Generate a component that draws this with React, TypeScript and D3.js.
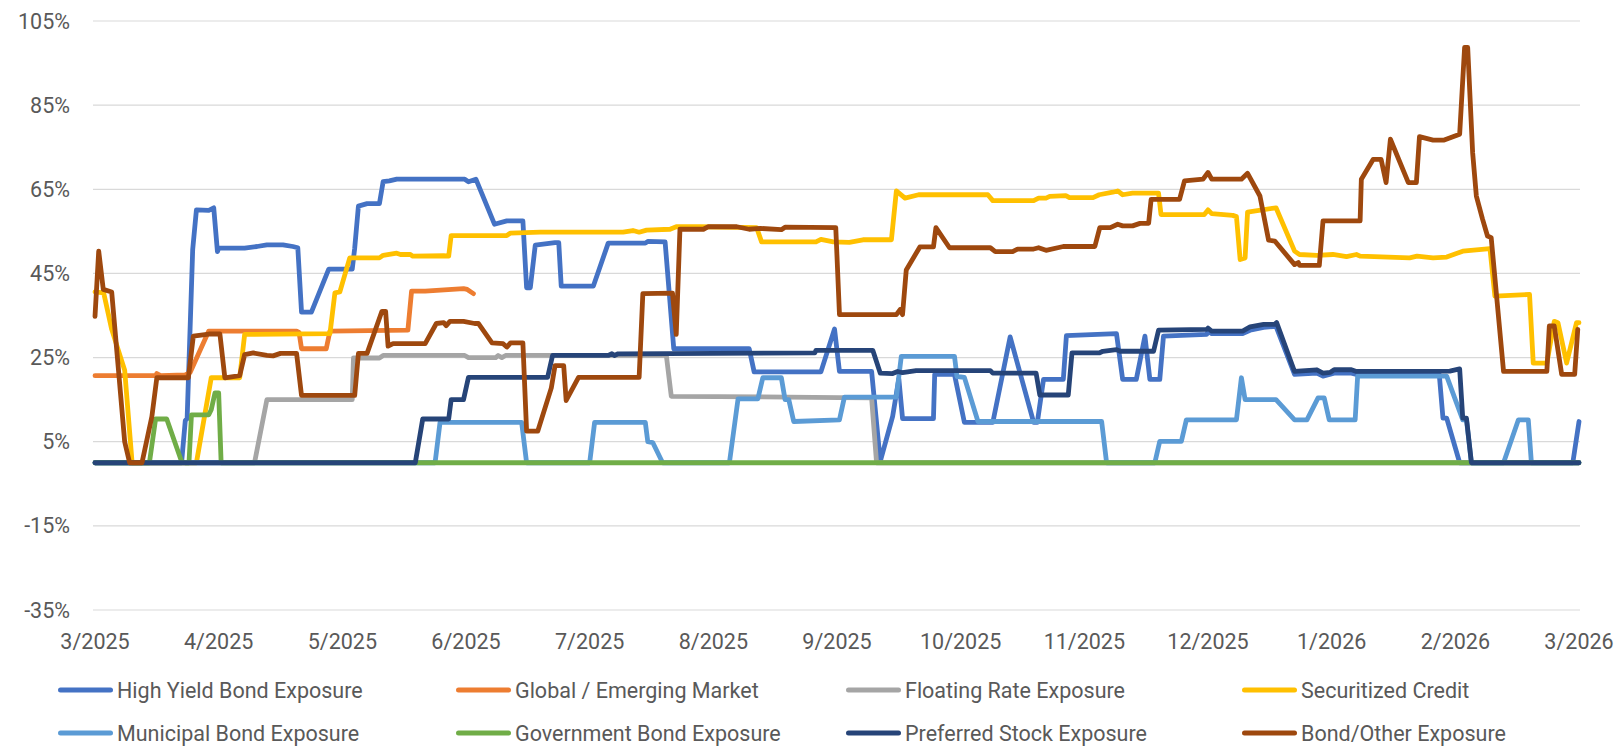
import React, { useEffect, useRef } from "react";
import * as d3 from "d3";

type Pt = [number, number];

// series names and colours, legend order
const seriesNames = [
  "High Yield Bond Exposure",
  "Global / Emerging Market",
  "Floating Rate Exposure",
  "Securitized Credit",
  "Municipal Bond Exposure",
  "Government Bond Exposure",
  "Preferred Stock Exposure",
  "Bond/Other Exposure",
];
const seriesColors = ["#4472C4", "#ED7D31", "#A5A5A5", "#FFC000", "#5B9BD5", "#70AD47", "#264478", "#9E480E"];

const monthLabels = [
  "3/2025", "4/2025", "5/2025", "6/2025", "7/2025", "8/2025", "9/2025",
  "10/2025", "11/2025", "12/2025", "1/2026", "2/2026", "3/2026",
];
const yTicks = [-35, -15, 5, 25, 45, 65, 85, 105];

// [months since 3/2025, exposure %]
const highYield: Pt[] = [
  [0, 0], [0.7, 0], [0.73, 10], [0.745, 10.5], [0.79, 50.7], [0.82, 60.1], [0.92, 60], [0.96, 60.6], [0.99, 50.2],
  [1.0, 51], [1.21, 51], [1.31, 51.4], [1.39, 51.8], [1.52, 51.8], [1.6, 51.4], [1.64, 51.1], [1.67, 35.8], [1.75, 35.8],
  [1.89, 46], [2.08, 46], [2.1, 51], [2.13, 61], [2.2, 61.6], [2.3, 61.6], [2.33, 66.8], [2.38, 67], [2.44, 67.4],
  [2.99, 67.4], [3.02, 66.8], [3.08, 67.4], [3.23, 56.7], [3.33, 57.5], [3.46, 57.5], [3.49, 41.6], [3.52, 41.6],
  [3.56, 51.7], [3.72, 52.3], [3.75, 52.3], [3.77, 42], [4.03, 42], [4.15, 52.2], [4.45, 52.2], [4.47, 52.6],
  [4.61, 52.5], [4.68, 27.1], [5.29, 27.1], [5.33, 21.6], [5.87, 21.6], [5.98, 31.8], [6.02, 21.7], [6.28, 21.7],
  [6.35, 0.3], [6.45, 11], [6.5, 20], [6.53, 10.5], [6.78, 10.5], [6.79, 21], [6.95, 21], [7.03, 9.6], [7.26, 9.6],
  [7.4, 29.9], [7.59, 9.6], [7.62, 9.6], [7.67, 19.8], [7.83, 19.8], [7.855, 30.2], [8.26, 30.7], [8.31, 19.8],
  [8.42, 19.8], [8.49, 30.1], [8.53, 19.8], [8.61, 19.8], [8.64, 30.1], [8.99, 30.5], [9.0, 31.2], [9.03, 30.7],
  [9.28, 30.7], [9.34, 31.5], [9.45, 32.2], [9.55, 32.4], [9.7, 21], [9.88, 21.3], [9.93, 20.6], [10.02, 21.3],
  [10.16, 21.3], [10.2, 21], [10.87, 21], [10.9, 10.6], [10.93, 10.6], [11.035, 0], [11.95, 0], [12, 9.8],
];

const globalEM: Pt[] = [
  [0, 20.7], [0.49, 20.7], [0.5, 21.2], [0.53, 20.7], [0.73, 20.9], [0.77, 21.5], [0.92, 31.3], [1.25, 31.3],
  [1.63, 31.3], [1.65, 31], [1.67, 27.1], [1.87, 27.1], [1.9, 31.3], [2.53, 31.5], [2.56, 40.8], [2.67, 40.8],
  [2.98, 41.4], [3.01, 41.2], [3.06, 40.2],
];

const floatingRate: Pt[] = [
  [0, 0], [1.29, 0], [1.39, 15], [2.08, 15], [2.09, 24.9], [2.3, 24.9], [2.33, 25.5], [2.99, 25.5], [3.02, 25],
  [3.08, 25], [3.24, 25], [3.26, 25.5], [3.29, 25], [3.32, 25.5], [4.62, 25.5], [4.66, 15.8], [6.02, 15.5],
  [6.28, 15.4], [6.32, 0], [12, 0],
];

const securitized: Pt[] = [
  [0, 40.6], [0.07, 40.4], [0.135, 31.7], [0.24, 22], [0.3, 0], [0.82, 0], [0.94, 20.2], [1.17, 20.2], [1.21, 30.5],
  [1.9, 30.7], [1.94, 40.4], [1.98, 40.6], [2.06, 48.7], [2.3, 48.7], [2.33, 49.3], [2.44, 49.8], [2.47, 49.5],
  [2.55, 49.5], [2.57, 49.1], [2.82, 49.2], [2.86, 49.1], [2.88, 54], [3.33, 54], [3.36, 54.6], [3.6, 54.8],
  [4.27, 54.8], [4.35, 55.2], [4.4, 54.8], [4.46, 55.3], [4.65, 55.5], [4.7, 56.1], [4.89, 56.1], [5.35, 55.9],
  [5.39, 52.5], [5.83, 52.5], [5.87, 53.1], [5.97, 52.5], [6.1, 52.4], [6.21, 53], [6.44, 53], [6.48, 64.6],
  [6.55, 62.9], [6.66, 63.7], [7.22, 63.7], [7.26, 62.3], [7.59, 62.3], [7.63, 62.9], [7.69, 62.9], [7.72, 63.3],
  [7.85, 63.5], [7.88, 63], [8.07, 63], [8.12, 63.7], [8.23, 64.3], [8.27, 64.6], [8.31, 63.7], [8.39, 64.1],
  [8.6, 64.1], [8.62, 59], [8.97, 59], [9.0, 60.1], [9.03, 59.2], [9.2, 58.8], [9.23, 58.5], [9.26, 48.3],
  [9.3, 48.7], [9.32, 59.6], [9.55, 60.6], [9.7, 50.3], [9.74, 49.5], [9.88, 49.3], [10.01, 49.5], [10.12, 49],
  [10.2, 49.5], [10.23, 49.1], [10.63, 48.7], [10.69, 49.1], [10.82, 48.7], [10.93, 48.9], [11.06, 50.3],
  [11.28, 50.9], [11.32, 39.6], [11.6, 40], [11.63, 23.7], [11.74, 23.7], [11.8, 33.6], [11.83, 33.3],
  [11.9, 23.7], [11.98, 33.3], [12, 33.3],
];

const municipal: Pt[] = [
  [0, 0], [2.75, 0], [2.79, 9.6], [3.45, 9.6], [3.49, 0], [4.0, 0], [4.04, 9.6], [4.45, 9.6], [4.47, 5], [4.51, 4.8],
  [4.59, 0], [5.13, 0], [5.2, 15.2], [5.36, 15.2], [5.4, 20.2], [5.55, 20.2], [5.58, 15], [5.61, 15], [5.65, 9.8],
  [6.02, 10.2], [6.06, 15.6], [6.48, 15.6], [6.52, 25.3], [6.95, 25.3], [6.97, 20.5], [7.03, 20.3], [7.14, 9.8],
  [8.14, 9.8], [8.18, 0], [8.57, 0], [8.61, 5.1], [8.785, 5.1], [8.825, 10.2], [9.23, 10.2], [9.27, 20.2],
  [9.3, 15], [9.55, 15], [9.7, 10.2], [9.8, 10.2], [9.89, 15.4], [9.94, 15.4], [9.98, 10.2], [10.19, 10.2],
  [10.21, 20.6], [10.93, 20.6], [11.06, 10.2], [11.09, 10.2], [11.13, 0], [11.39, 0], [11.51, 10.2],
  [11.59, 10.2], [11.615, 0], [12, 0],
];

const government: Pt[] = [
  [0, 0], [0.44, 0], [0.49, 10.4], [0.58, 10.4], [0.7, 0.3], [0.73, 0], [0.76, 0], [0.78, 11.4], [0.92, 11.4],
  [0.94, 12.6], [0.97, 16.6], [1.0, 16.6], [1.02, 0], [12, 0],
];

const preferred: Pt[] = [
  [0, 0], [2.59, 0], [2.65, 10.4], [2.86, 10.4], [2.88, 15], [2.98, 15], [3.02, 20.3], [3.66, 20.3], [3.7, 25.5],
  [4.15, 25.5], [4.18, 25.9], [4.2, 25.5], [4.23, 25.9], [5.82, 26.1], [5.83, 26.7], [6.29, 26.7], [6.35, 21.3],
  [6.45, 21.2], [6.49, 21.7], [6.53, 21.4], [6.64, 21.9], [7.24, 21.9], [7.26, 21.3], [7.61, 21.3], [7.64, 16.1],
  [7.87, 16.1], [7.9, 26.1], [8.12, 26.1], [8.15, 26.5], [8.26, 26.9], [8.29, 26.5], [8.56, 26.5], [8.6, 31.5],
  [8.99, 31.7], [9.0, 32], [9.03, 31.3], [9.28, 31.3], [9.34, 32.3], [9.45, 32.9], [9.54, 32.9], [9.555, 33.3],
  [9.7, 21.7], [9.88, 22.1], [9.93, 21.3], [9.99, 21.5], [10.02, 22.1], [10.16, 22.1], [10.2, 21.7],
  [10.955, 21.8], [11.035, 22.3], [11.06, 10.6], [11.09, 10.6], [11.13, 0], [12, 0],
];

const bondOther: Pt[] = [
  [0, 34.8], [0.03, 50.3], [0.067, 41.2], [0.135, 40.6], [0.19, 22], [0.24, 5], [0.28, 0], [0.38, 0], [0.46, 11],
  [0.5, 20.2], [0.755, 20.2], [0.795, 30.1], [0.92, 30.6], [1.01, 30.6], [1.05, 20.2], [1.17, 20.7], [1.21, 25.7],
  [1.28, 26.1], [1.39, 25.5], [1.44, 25.4], [1.5, 26], [1.63, 26], [1.67, 16], [2.1, 16], [2.13, 26], [2.2, 26],
  [2.32, 36], [2.35, 36], [2.37, 27.7], [2.41, 28.3], [2.67, 28.3], [2.76, 33.1], [2.82, 33.3], [2.84, 32.6],
  [2.87, 33.6], [2.98, 33.6], [3.07, 33.1], [3.1, 33.1], [3.21, 28.5], [3.3, 28.3], [3.33, 27.5], [3.36, 28.5],
  [3.46, 28.5], [3.49, 7.5], [3.58, 7.5], [3.69, 17.8], [3.72, 23.1], [3.79, 23.1], [3.81, 14.8], [3.91, 20.3],
  [4.4, 20.3], [4.43, 40.2], [4.67, 40.3], [4.7, 30.5], [4.73, 55.5], [4.92, 55.5], [4.96, 56.1], [5.19, 56.1],
  [5.29, 55.5], [5.38, 55.7], [5.55, 55.4], [5.58, 56], [5.99, 55.9], [6.02, 35.2], [6.48, 35.2], [6.51, 36.4],
  [6.53, 35.2], [6.56, 45.8], [6.67, 51.3], [6.78, 51.3], [6.8, 55.9], [6.91, 51.1], [7.24, 51.1], [7.28, 50.2],
  [7.42, 50.2], [7.46, 50.8], [7.59, 50.8], [7.63, 51.1], [7.69, 50.5], [7.83, 51.4], [8.085, 51.4],
  [8.125, 55.9], [8.21, 55.9], [8.27, 56.7], [8.31, 56.3], [8.39, 56.3], [8.45, 56.9], [8.52, 56.9], [8.54, 62.6],
  [8.77, 62.6], [8.81, 67], [8.96, 67.4], [9.0, 69], [9.03, 67.4], [9.27, 67.4], [9.32, 68.8], [9.42, 63.4],
  [9.49, 52.9], [9.54, 52.7], [9.7, 47.1], [9.73, 47.6], [9.74, 46.9], [9.9, 46.9], [9.93, 57.5], [10.23, 57.5],
  [10.24, 67.4], [10.335, 72.1], [10.4, 72.1], [10.44, 66.6], [10.475, 76.9], [10.62, 66.6], [10.685, 66.6],
  [10.71, 77.5], [10.82, 76.7], [10.91, 76.7], [11.035, 78.1], [11.075, 98.7], [11.1, 98.7], [11.14, 73.7],
  [11.17, 63.4], [11.22, 57.9], [11.26, 53.9], [11.29, 53.5], [11.39, 21.7], [11.74, 21.7], [11.76, 32.5],
  [11.8, 32.5], [11.86, 21], [11.965, 21], [11.99, 31.7],
];

const seriesValues = [highYield, globalEM, floatingRate, securitized, municipal, government, preferred, bondOther];

const FONT = "Roboto, 'Open Sans', sans-serif";
const TEXT_COLOR = "#595959";

const App = () => {
  const svgRef = useRef<SVGSVGElement>(null);

  useEffect(() => {
    const svg = d3.select(svgRef.current);
    svg.selectAll("*").remove();

    const x = d3.scaleLinear().domain([0, monthLabels.length - 1]).range([95, 1579]);
    const y = d3.scaleLinear().domain([-35, 105]).range([610, 21]);

    // gridlines + y labels
    const grid = svg.append("g");
    yTicks.forEach((t) => {
      grid.append("line")
        .attr("x1", 93).attr("x2", 1580)
        .attr("y1", y(t)).attr("y2", y(t))
        .attr("stroke", "#D9D9D9").attr("stroke-width", 1.2);
      grid.append("text")
        .attr("x", 70).attr("y", y(t) + 7.5)
        .attr("text-anchor", "end")
        .attr("font-family", FONT).attr("font-size", 21.5)
        .attr("fill", TEXT_COLOR)
        .text(`${t}%`);
    });

    // x labels
    monthLabels.forEach((m, i) => {
      svg.append("text")
        .attr("x", x(i)).attr("y", 649)
        .attr("text-anchor", "middle")
        .attr("font-family", FONT).attr("font-size", 21.5)
        .attr("fill", TEXT_COLOR)
        .text(m);
    });

    const line = d3.line<Pt>().x((d) => x(d[0])).y((d) => y(d[1]));

    seriesValues.forEach((vals, i) => {
      svg.append("path")
        .datum(vals)
        .attr("fill", "none")
        .attr("stroke", seriesColors[i])
        .attr("stroke-width", 4.8)
        .attr("stroke-linejoin", "round")
        .attr("stroke-linecap", "round")
        .attr("d", line);
    });

    // legend, 2 rows of 4
    const colX = [58, 456, 846, 1242];
    const rowY = [690, 733];
    seriesNames.forEach((name, i) => {
      const lx = colX[i % 4];
      const ly = rowY[Math.floor(i / 4)];
      svg.append("line")
        .attr("x1", lx + 2.5).attr("x2", lx + 52.5)
        .attr("y1", ly).attr("y2", ly)
        .attr("stroke", seriesColors[i]).attr("stroke-width", 5)
        .attr("stroke-linecap", "round");
      svg.append("text")
        .attr("x", lx + 59).attr("y", ly + 7.5)
        .attr("font-family", FONT).attr("font-size", 21.5)
        .attr("fill", TEXT_COLOR)
        .text(name);
    });
  }, []);

  return (
    <svg
      ref={svgRef}
      width={1621}
      height={746}
      style={{ position: "absolute", left: 0, top: 0, background: "#fff" }}
    />
  );
};

export default App;
